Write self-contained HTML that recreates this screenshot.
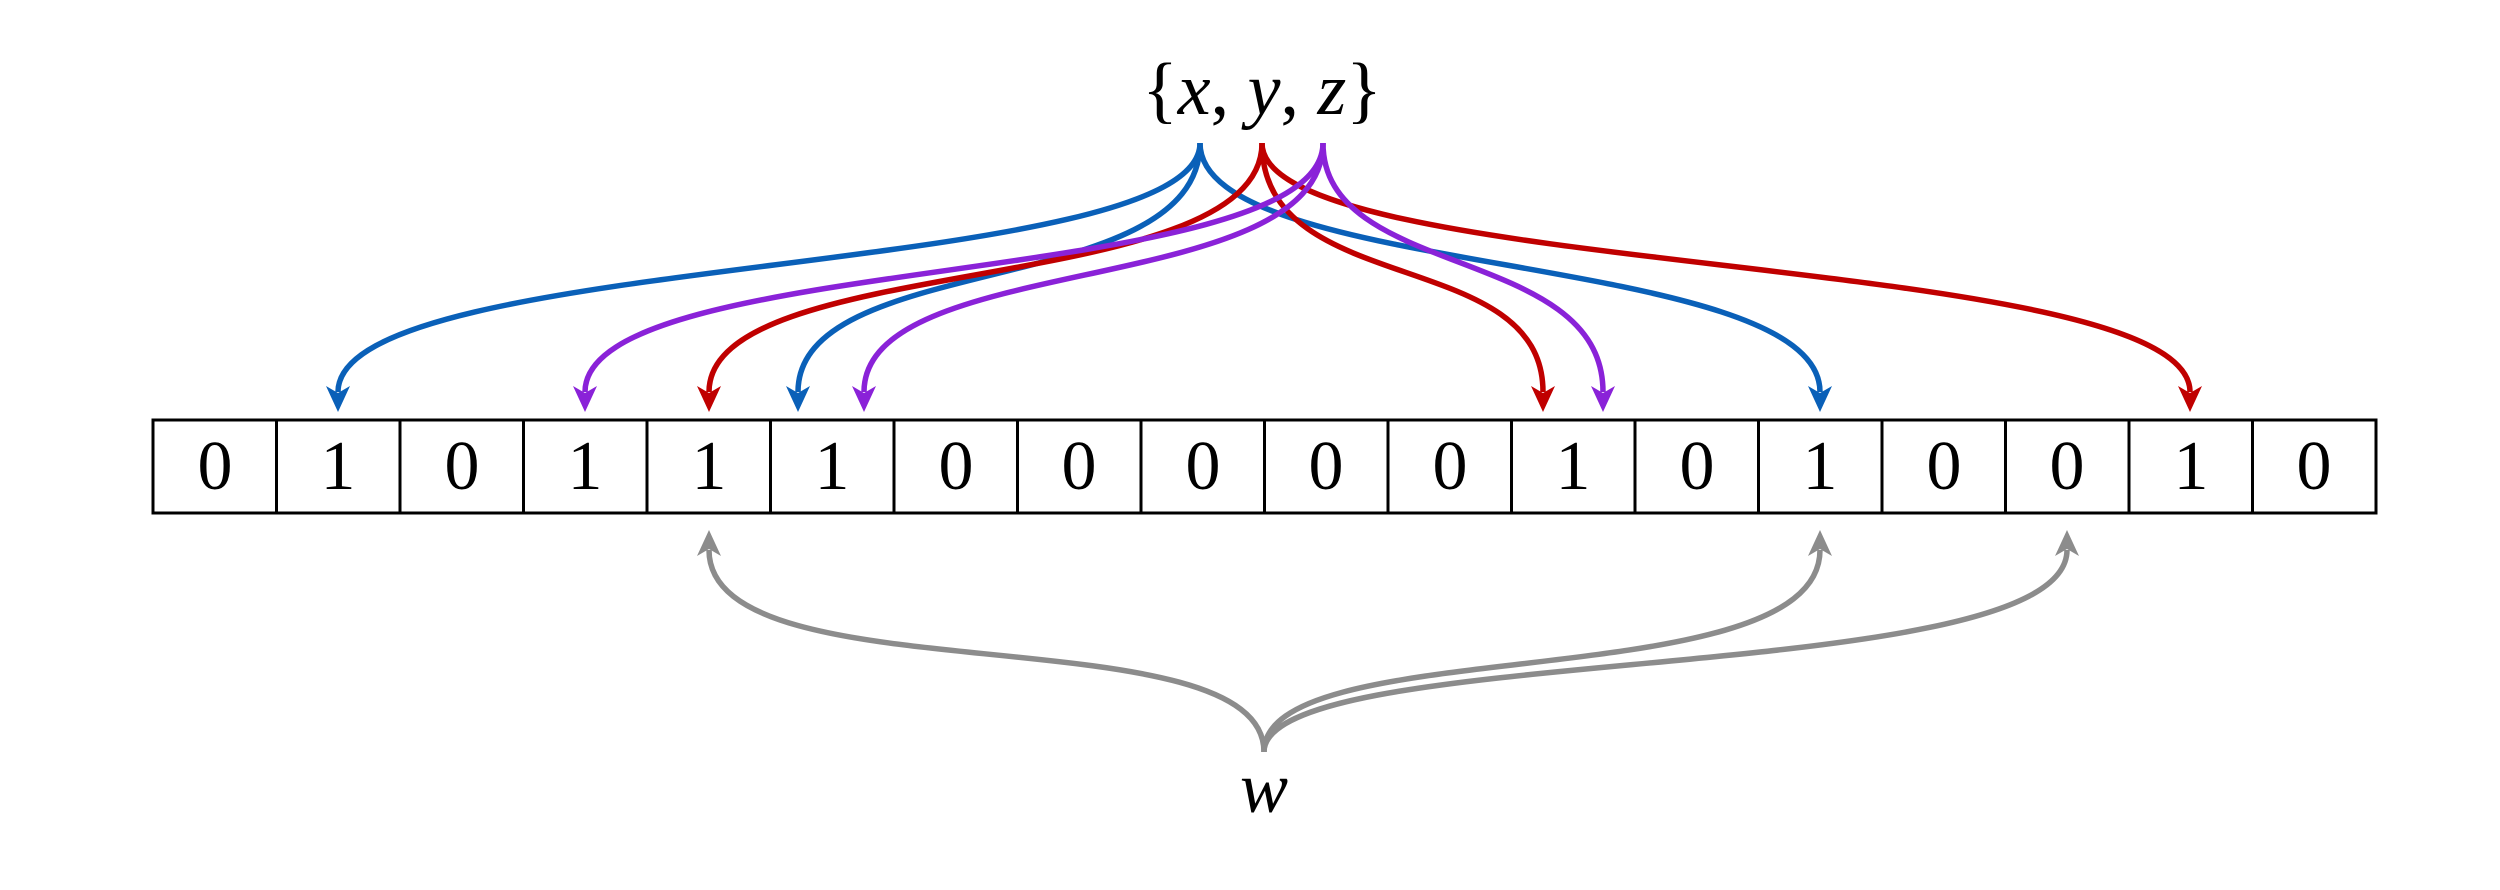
<!DOCTYPE html>
<html><head><meta charset="utf-8"><style>
html,body{margin:0;padding:0;background:#fff;}
svg{display:block;}
</style></head><body>
<svg width="2500" height="890" viewBox="0 0 2500 890" xmlns="http://www.w3.org/2000/svg">
<g fill="none" stroke-width="5.5" stroke-linecap="butt">
  <path d="M1200,143 C1200,280 338,250 338,392" stroke="#0a60b8"/>
  <path d="M1200,143 C1200,300 798,250 798,392" stroke="#0a60b8"/>
  <path d="M1200,143 C1200,280 1820,250 1820,392" stroke="#0a60b8"/>
  <path d="M1262,143 C1262,300 709,250 709,392" stroke="#c00000"/>
  <path d="M1262,143 C1262,300 1543,245 1543,392" stroke="#c00000"/>
  <path d="M1262,143 C1262,280 2190,250 2190,392" stroke="#c00000"/>
  <path d="M1323,143 C1323,290 585,250 585,392" stroke="#8a22d8"/>
  <path d="M1323,143 C1323,300 864,250 864,392" stroke="#8a22d8"/>
  <path d="M1323,143 C1323,280 1603,245 1603,392" stroke="#8a22d8"/>
  <path d="M1264,752 C1264,610 709,700 709,550" stroke="#8c8c8c"/>
  <path d="M1264,752 C1264,630 1820,700 1820,550" stroke="#8c8c8c"/>
  <path d="M1264,752 C1264,640 2067,690 2067,550" stroke="#8c8c8c"/>
</g>
<g>
  <g fill="#0a60b8">
    <path d="M338,412 L326,386 L338,393 L350,386 Z"/>
    <path d="M798,412 L786,386 L798,393 L810,386 Z"/>
    <path d="M1820,412 L1808,386 L1820,393 L1832,386 Z"/>
  </g>
  <g fill="#c00000">
    <path d="M709,412 L697,386 L709,393 L721,386 Z"/>
    <path d="M1543,412 L1531,386 L1543,393 L1555,386 Z"/>
    <path d="M2190,412 L2178,386 L2190,393 L2202,386 Z"/>
  </g>
  <g fill="#8a22d8">
    <path d="M585,412 L573,386 L585,393 L597,386 Z"/>
    <path d="M864,412 L852,386 L864,393 L876,386 Z"/>
    <path d="M1603,412 L1591,386 L1603,393 L1615,386 Z"/>
  </g>
  <g fill="#8c8c8c">
    <path d="M709,530 L697,556 L709,549 L721,556 Z"/>
    <path d="M1820,530 L1808,556 L1820,549 L1832,556 Z"/>
    <path d="M2067,530 L2055,556 L2067,549 L2079,556 Z"/>
  </g>
</g>
<rect x="153" y="420" width="2223" height="93" fill="#fff" stroke="#000" stroke-width="3"/>
<g stroke="#000" stroke-width="3">
  <line x1="276.5" y1="420" x2="276.5" y2="513"/><line x1="400" y1="420" x2="400" y2="513"/>
  <line x1="523.5" y1="420" x2="523.5" y2="513"/><line x1="647" y1="420" x2="647" y2="513"/>
  <line x1="770.5" y1="420" x2="770.5" y2="513"/><line x1="894" y1="420" x2="894" y2="513"/>
  <line x1="1017.5" y1="420" x2="1017.5" y2="513"/><line x1="1141" y1="420" x2="1141" y2="513"/>
  <line x1="1264.5" y1="420" x2="1264.5" y2="513"/><line x1="1388" y1="420" x2="1388" y2="513"/>
  <line x1="1511.5" y1="420" x2="1511.5" y2="513"/><line x1="1635" y1="420" x2="1635" y2="513"/>
  <line x1="1758.5" y1="420" x2="1758.5" y2="513"/><line x1="1882" y1="420" x2="1882" y2="513"/>
  <line x1="2005.5" y1="420" x2="2005.5" y2="513"/><line x1="2129" y1="420" x2="2129" y2="513"/>
  <line x1="2252.5" y1="420" x2="2252.5" y2="513"/>
</g>
<g font-family="Liberation Serif, serif" font-size="70" text-anchor="middle" fill="#000">
  <text x="215" y="489">0</text><text x="338" y="489">1</text><text x="462" y="489">0</text>
  <text x="585" y="489">1</text><text x="709" y="489">1</text><text x="832" y="489">1</text>
  <text x="956" y="489">0</text><text x="1079" y="489">0</text><text x="1203" y="489">0</text>
  <text x="1326" y="489">0</text><text x="1450" y="489">0</text><text x="1573" y="489">1</text>
  <text x="1697" y="489">0</text><text x="1820" y="489">1</text><text x="1944" y="489">0</text>
  <text x="2067" y="489">0</text><text x="2191" y="489">1</text><text x="2314" y="489">0</text>
</g>
<text x="1262" y="114" font-family="Liberation Serif, serif" font-size="74" text-anchor="middle">{<tspan font-style="italic">x</tspan>, <tspan font-style="italic">y</tspan>, <tspan font-style="italic">z</tspan>}</text>
<text x="1264" y="812" font-family="Liberation Serif, serif" font-size="72" font-style="italic" text-anchor="middle">w</text>
</svg>
</body></html>
